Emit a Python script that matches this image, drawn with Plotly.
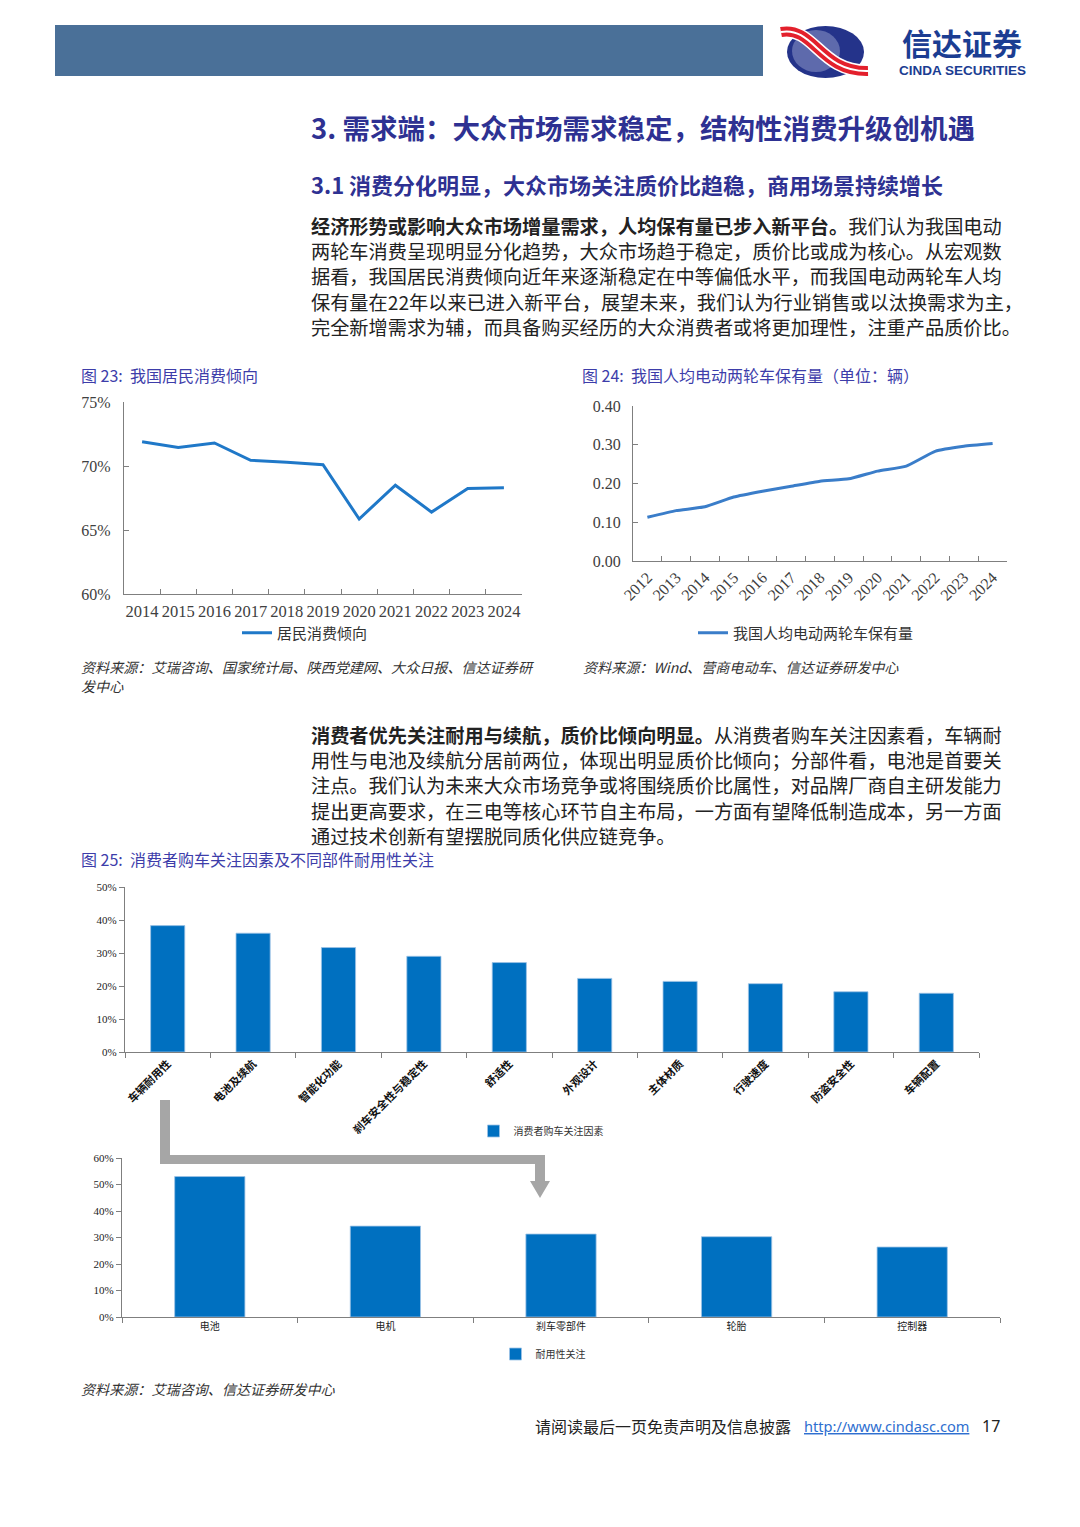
import plotly.graph_objects as go

# page is rendered with the browser's default 8px body margin, so the figure
# is made 16px smaller and all page coordinates are given in reference pixels
OFF = 8
W, H = 1080 - 2 * OFF, 1527 - 2 * OFF

# ---------------- data ----------------
years_23 = ['2014', '2015', '2016', '2017', '2018', '2019', '2020', '2021', '2022', '2023', '2024']
consumption_propensity = [0.719, 0.7145, 0.718, 0.7045, 0.703, 0.701, 0.6586, 0.685, 0.664, 0.6825, 0.683]

years_24 = ['2012', '2013', '2014', '2015', '2016', '2017', '2018', '2019', '2020', '2021', '2022', '2023', '2024']
ebike_per_capita = [0.113, 0.130, 0.140, 0.165, 0.180, 0.193, 0.206, 0.212, 0.232, 0.245, 0.283, 0.296, 0.303]

factors = ['车辆耐用性', '电池及续航', '智能化功能', '刹车安全性与稳定性', '舒适性',
           '外观设计', '主体材质', '行驶速度', '防盗安全性', '车辆配置']
factor_share = [0.383, 0.360, 0.3165, 0.290, 0.271, 0.223, 0.214, 0.207, 0.1825, 0.178]

parts = ['电池', '电机', '刹车零部件', '轮胎', '控制器']
durability_share = [0.530, 0.343, 0.313, 0.303, 0.264]

# ---------------- helpers ----------------
def px(a):
    return (a - OFF) / W

def py(b):
    return 1 - (b - OFF) / H

def dx(a, b):
    return [px(a), px(b)]

def dy(top, bottom):
    return [py(bottom), py(top)]

CJK = 'Noto Sans CJK SC'
SERIF = 'Liberation Serif, Noto Sans CJK SC'
AXC = '#7f7f7f'

fig = go.Figure()

fig.add_trace(go.Scatter(x=years_23, y=consumption_propensity, mode='lines', name='居民消费倾向',
                         line=dict(color='#1F78C8', width=3), xaxis='x', yaxis='y', legend='legend'))
fig.add_trace(go.Scatter(x=years_24, y=ebike_per_capita, mode='lines', name='我国人均电动两轮车保有量',
                         line=dict(color='#3A7DC9', width=3, shape='spline', smoothing=0.4),
                         xaxis='x2', yaxis='y2', legend='legend2'))
fig.add_trace(go.Bar(x=factors, y=factor_share, name='消费者购车关注因素', width=0.4,
                     marker=dict(color='#0070C0', line=dict(color='#9DC3E6', width=0.8)),
                     xaxis='x3', yaxis='y3', legend='legend3'))
fig.add_trace(go.Bar(x=parts, y=durability_share, name='耐用性关注', width=0.4,
                     marker=dict(color='#0070C0', line=dict(color='#9DC3E6', width=0.8)),
                     xaxis='x4', yaxis='y4', legend='legend4'))
# overlay pixel coordinate system for page decorations
fig.add_trace(go.Scatter(x=[], y=[], xaxis='x5', yaxis='y5', showlegend=False, hoverinfo='skip'))

common_x = dict(type='category', showline=True, linecolor=AXC, linewidth=1.2, showgrid=False,
                tickson='boundaries', ticklen=5, tickcolor=AXC, zeroline=False, automargin=False)
common_y = dict(showline=True, linecolor=AXC, linewidth=1.2, showgrid=False, ticklen=5,
                tickcolor=AXC, zeroline=False, automargin=False)

fig.update_layout(
    width=W, height=H, margin=dict(l=0, r=0, t=0, b=0, autoexpand=False),
    paper_bgcolor='white', plot_bgcolor='rgba(0,0,0,0)', showlegend=True,
    font=dict(family=CJK, color='#333333'),
    xaxis=dict(common_x, domain=dx(124, 522), anchor='y', ticks='inside', tickangle=0,
               range=[-0.5, len(years_23) - 0.5], ticklabelstandoff=2,
               tickfont=dict(family=SERIF, size=16.5, color='#404040')),
    yaxis=dict(common_y, domain=dy(402, 594), anchor='x', range=[0.60, 0.75], dtick=0.05,
               tickformat='.0%', ticks='inside', ticklabelstandoff=9,
               tickfont=dict(family=SERIF, size=16, color='#404040')),
    xaxis2=dict(common_x, domain=dx(633, 1007), anchor='y2', ticks='inside', tickangle=-45,
                range=[-0.5, len(years_24) - 0.5],
                tickfont=dict(family=SERIF, size=16, color='#404040')),
    yaxis2=dict(common_y, domain=dy(406, 561), anchor='x2', range=[0, 0.4], dtick=0.1,
                tickformat='.2f', ticks='inside', ticklabelstandoff=8,
                tickfont=dict(family=SERIF, size=16, color='#404040')),
    xaxis3=dict(common_x, domain=dx(125, 979), anchor='y3', ticks='outside', tickangle=-45,
                tickfont=dict(family=CJK, size=11, color='#111111', weight='bold')),
    yaxis3=dict(common_y, domain=dy(887, 1052), anchor='x3', range=[0, 0.5], dtick=0.1,
                tickformat='.0%', ticks='outside', tickfont=dict(family=SERIF, size=11, color='#222222')),
    xaxis4=dict(common_x, domain=dx(122, 1000), anchor='y4', ticks='outside', tickangle=0,
                tickfont=dict(family=CJK, size=10, color='#222222')),
    yaxis4=dict(common_y, domain=dy(1158, 1317), anchor='x4', range=[0, 0.6], dtick=0.1,
                tickformat='.0%', ticks='outside', tickfont=dict(family=SERIF, size=11, color='#222222')),
    xaxis5=dict(domain=[0, 1], range=[OFF, OFF + W], visible=False, anchor='y5', fixedrange=True,
                automargin=False),
    yaxis5=dict(domain=[0, 1], range=[OFF + H, OFF], visible=False, anchor='x5', fixedrange=True,
                automargin=False),
    legend=dict(x=px(305), y=py(633), xanchor='center', yanchor='middle', orientation='h',
                font=dict(family=CJK, size=15, color='#333333'), bgcolor='rgba(0,0,0,0)'),
    legend2=dict(x=px(806), y=py(633), xanchor='center', yanchor='middle', orientation='h',
                 font=dict(family=CJK, size=15, color='#333333'), bgcolor='rgba(0,0,0,0)'),
    legend3=dict(x=px(541), y=py(1131), xanchor='center', yanchor='middle', orientation='h',
                 font=dict(family=CJK, size=10, color='#333333'), bgcolor='rgba(0,0,0,0)'),
    legend4=dict(x=px(543), y=py(1354), xanchor='center', yanchor='middle', orientation='h',
                 font=dict(family=CJK, size=10, color='#333333'), bgcolor='rgba(0,0,0,0)'),
)

shapes = []
ann = []

def text(x, y, s, size, color='#222222', anchor='left', family=CJK, weight='normal', style='normal'):
    ann.append(dict(x=x, y=y, xref='x5', yref='y5', text=s, showarrow=False, xanchor=anchor,
                    yanchor='middle', font=dict(family=family, size=size, color=color,
                                                weight=weight, style=style)))

def rect(x0, y0, x1, y1, color):
    shapes.append(dict(type='rect', xref='x5', yref='y5', x0=x0, y0=y0, x1=x1, y1=y1,
                       fillcolor=color, line=dict(width=0), layer='below'))

# header band
rect(55, 25, 763, 76, '#4A7098')
# logo
shapes.append(dict(type='circle', xref='x5', yref='y5', x0=787, y0=26, x1=864, y1=78,
                   fillcolor='#24338A', line=dict(width=0)))
shapes.append(dict(type='circle', xref='x5', yref='y5', x0=792, y0=30, x1=840, y1=72,
                   fillcolor='#8E98C8', opacity=0.55, line=dict(width=0)))
wave = 'M 781 32 C 814 26, 820 72, 868 71'
shapes.append(dict(type='path', xref='x5', yref='y5', path=wave, line=dict(color='white', width=13)))
shapes.append(dict(type='path', xref='x5', yref='y5', path=wave, line=dict(color='#E3202C', width=10)))
shapes.append(dict(type='path', xref='x5', yref='y5', path=wave, line=dict(color='white', width=2)))
text(962, 42, '信达证券', 30, '#1B3D92', 'center', CJK, 'bold')
text(962, 70, 'CINDA SECURITIES', 13.5, '#1B3D92', 'center', 'Liberation Sans', 'bold')

# headings
text(309, 127, '3. 需求端：大众市场需求稳定，结构性消费升级创机遇', 27.5, '#2E3192', 'left', CJK, 'bold')
text(309, 184, '3.1 消费分化明显，大众市场关注质价比趋稳，商用场景持续增长', 22, '#2E3192', 'left', CJK, 'bold')

para1 = [
    '<b>经济形势或影响大众市场增量需求，人均保有量已步入新平台。</b>我们认为我国电动',
    '两轮车消费呈现明显分化趋势，大众市场趋于稳定，质价比或成为核心。从宏观数',
    '据看，我国居民消费倾向近年来逐渐稳定在中等偏低水平，而我国电动两轮车人均',
    '保有量在22年以来已进入新平台，展望未来，我们认为行业销售或以汰换需求为主，',
    '完全新增需求为辅，而具备购买经历的大众消费者或将更加理性，注重产品质价比。',
]
for i, line in enumerate(para1):
    text(309, 226 + i * 25.2, line, 19.2, '#222222')

para2 = [
    '<b>消费者优先关注耐用与续航，质价比倾向明显。</b>从消费者购车关注因素看，车辆耐',
    '用性与电池及续航分居前两位，体现出明显质价比倾向；分部件看，电池是首要关',
    '注点。我们认为未来大众市场竞争或将围绕质价比属性，对品牌厂商自主研发能力',
    '提出更高要求，在三电等核心环节自主布局，一方面有望降低制造成本，另一方面',
    '通过技术创新有望摆脱同质化供应链竞争。',
]
for i, line in enumerate(para2):
    text(309, 735 + i * 25.2, line, 19.2, '#222222')

# figure captions
CAP = '#3D3DAA'
text(79, 375, '图 23:  我国居民消费倾向', 16, CAP)
text(580, 375, '图 24:  我国人均电动两轮车保有量（单位：辆）', 16, CAP)
text(79, 859, '图 25:  消费者购车关注因素及不同部件耐用性关注', 16, CAP)

# sources
SRC = '#333333'
text(79, 667, '资料来源：艾瑞咨询、国家统计局、陕西党建网、大众日报、信达证券研', 14.1, SRC, style='italic')
text(79, 686, '发中心', 14.1, SRC, style='italic')
text(581, 667, '资料来源：Wind、营商电动车、信达证券研发中心', 14.1, SRC, style='italic')
text(79, 1389, '资料来源：艾瑞咨询、信达证券研发中心', 14.1, SRC, style='italic')

# gray arrow between the two bar panels
arrow = ('M 160 1100 L 170 1100 L 170 1155 L 545 1155 L 545 1181 L 550 1181 '
         'L 540 1198 L 530 1181 L 535 1181 L 535 1164 L 160 1164 Z')
shapes.append(dict(type='path', xref='x5', yref='y5', path=arrow, fillcolor='#A6A6A6',
                   line=dict(width=0)))

# footer
text(533, 1426, '请阅读最后一页免责声明及信息披露', 16, '#222222')
text(802, 1426, '<u>http://www.cindasc.com</u>', 14.6, '#2F6FD0', 'left', 'Noto Sans')
text(1002, 1426, '17', 16, '#222222', 'right', 'Noto Sans')

fig.update_layout(shapes=shapes, annotations=ann)

fig.write_html('out.html')
